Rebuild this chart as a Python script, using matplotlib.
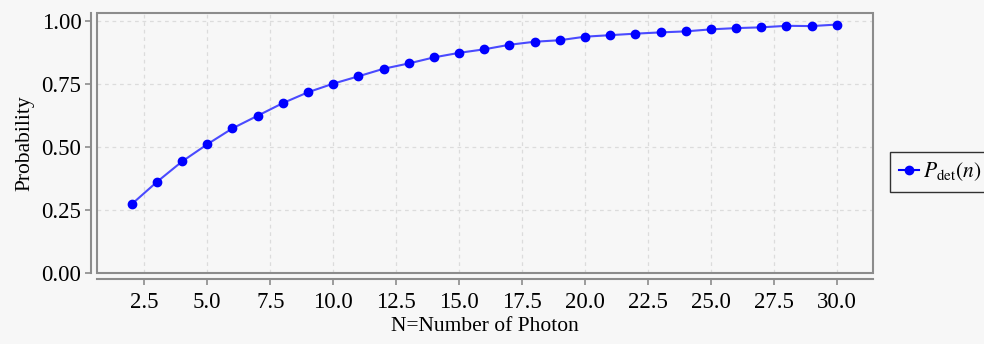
import matplotlib.pyplot as plt
from matplotlib.patches import Rectangle

# photon number vs detection probability
n_photon = list(range(2, 31))
p_det = [0.274, 0.362, 0.443, 0.511, 0.574, 0.624, 0.674, 0.717, 0.751, 0.780,
         0.810, 0.831, 0.855, 0.873, 0.887, 0.905, 0.917, 0.923, 0.937, 0.943,
         0.949, 0.954, 0.958, 0.966, 0.971, 0.974, 0.980, 0.979, 0.985]

x_ticks = [2.5, 5.0, 7.5, 10.0, 12.5, 15.0, 17.5, 20.0, 22.5, 25.0, 27.5, 30.0]
y_ticks = [0.00, 0.25, 0.50, 0.75, 1.00]

plt.rcParams['font.family'] = ['Liberation Serif', 'DejaVu Serif']
plt.rcParams['mathtext.fontset'] = 'stix'

bg = '#f7f7f7'
frame_col = '#8c8c8c'

fig = plt.figure(figsize=(9.84, 3.44), dpi=100, facecolor=bg)
ax = fig.add_axes([0.0986, 0.2055, 0.7889, 0.7576])
ax.set_facecolor(bg)

ax.plot(n_photon, p_det, color='#4a4aff', lw=1.5, zorder=3)
ax.plot(n_photon, p_det, 'o', color='#0000ff', ms=6, zorder=4)
# legend proxy: line with marker
ax.plot([], [], '-o', color='#0000ff', ms=6, lw=1.5, label=r'$P_{\rm det}(n)$')

ax.set_xlim(0.62, 31.45)
ax.set_ylim(0, 1.032)
ax.set_xticks(x_ticks)
ax.set_xticklabels(['%.1f' % v for v in x_ticks])
ax.set_yticks(y_ticks)
ax.set_yticklabels(['%.2f' % v for v in y_ticks])

ax.grid(True, linestyle=(0, (3, 3)), color='#dcdcdc', lw=0.9)

# offset axis lines
for side in ['top', 'right']:
    ax.spines[side].set_visible(False)
ax.spines['left'].set_position(('outward', 4.3))
ax.spines['bottom'].set_position(('outward', 4.3))
for side in ['left', 'bottom']:
    ax.spines[side].set_color(frame_col)
    ax.spines[side].set_linewidth(1.5)

# the frame around the plot area
ax.add_patch(Rectangle((0, 0), 1, 1, transform=ax.transAxes, fill=False,
                       edgecolor=frame_col, lw=1.5, clip_on=False, zorder=5))

ax.tick_params(axis='both', colors=frame_col, length=4, width=1.2,
               labelsize=16.5, labelcolor='black')
ax.tick_params(axis='x', pad=5)
ax.tick_params(axis='y', pad=3)

ax.set_xlabel('N=Number of Photon', fontsize=15.5, labelpad=3)
ax.set_ylabel('Probability', fontsize=15.5, labelpad=5)

leg = ax.legend(loc='center left', bbox_to_anchor=(1.022, 0.39), fontsize=15.5,
                frameon=True, fancybox=False, handlelength=0.95,
                handletextpad=0.15, borderpad=0.4, borderaxespad=0)
leg.get_frame().set_edgecolor('black')
leg.get_frame().set_linewidth(1.0)
leg.get_frame().set_facecolor(bg)

fig.savefig('out.png', dpi=100, facecolor=bg)
